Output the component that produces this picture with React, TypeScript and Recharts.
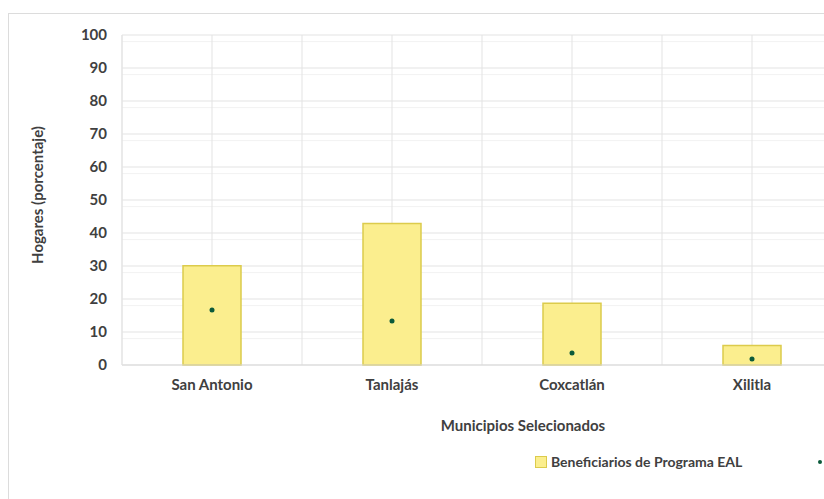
import {
  Bar,
  CartesianGrid,
  ComposedChart,
  Line,
  XAxis,
  YAxis
} from "recharts";

const municipios = ["San Antonio", "Tanlajás", "Coxcatlán", "Xilitla"];
const beneficiarios = [30.1, 42.9, 18.7, 5.9];
const noBeneficiarios = [16.7, 13.3, 3.6, 1.8];
const yTicks = [0, 10, 20, 30, 40, 50, 60, 70, 80, 90, 100];
const minorTicks = yTicks.slice(0, -1).flatMap((t) => [t + 2, t + 4, t + 6, t + 8]);

const data = municipios.map((name, i) => ({
  name,
  benef: beneficiarios[i],
  noBenef: noBeneficiarios[i]
}));

const FONT = "Lato, 'Open Sans', sans-serif";
const TEXT = "#404040";
const BAR_FILL = "#fbee8e";
const BAR_STROKE = "#dccb4c";
const DOT = "#0b5a3a";

// half-category vertical lines, like the Excel original
const halfCategoryLines = ({ offset }: any) => {
  const step = offset.width / (municipios.length * 2);
  return Array.from({ length: municipios.length * 2 }, (_, i) => offset.left + i * step);
};

export default function App() {
  return (
    <div
      style={{
        position: "fixed",
        left: 0,
        top: 0,
        width: 824,
        height: 499,
        overflow: "hidden",
        background: "#fff",
        fontFamily: FONT
      }}
    >
      <div
        style={{
          position: "absolute",
          left: 8,
          top: 13,
          width: 900,
          height: 600,
          border: "1px solid #dcdcdc"
        }}
      />
      <div style={{ position: "absolute", left: 0, top: 0 }}>
        <ComposedChart
          width={900}
          height={499}
          data={data}
          margin={{ top: 35, right: 58, bottom: 64, left: 0 }}
        >
          <CartesianGrid
            horizontalValues={minorTicks}
            vertical={false}
            stroke="#f2f2f2"
          />
          <CartesianGrid
            horizontalValues={yTicks}
            verticalCoordinatesGenerator={halfCategoryLines}
            stroke="#e3e3e3"
          />
          <XAxis
            dataKey="name"
            axisLine={{ stroke: "#d9d9d9" }}
            tickLine={false}
            tickMargin={8}
            height={70}
            tick={{ fill: TEXT, fontSize: 15, fontWeight: 700, fontFamily: FONT }}
            label={{
              value: "Municipios Selecionados",
              position: "insideTop",
              offset: 55,
              dx: 41,
              fill: TEXT,
              fontSize: 15,
              fontWeight: 700,
              fontFamily: FONT
            }}
          />
          <YAxis
            domain={[0, 100]}
            ticks={yTicks}
            width={122}
            axisLine={{ stroke: "#e3e3e3" }}
            tickLine={false}
            tickMargin={9}
            tick={{ fill: TEXT, fontSize: 15, fontWeight: 700, fontFamily: FONT }}
            label={{
              value: "Hogares (porcentaje)",
              angle: -90,
              position: "insideLeft",
              offset: 38,
              dy: -5,
              fill: TEXT,
              fontSize: 15,
              fontWeight: 700,
              fontFamily: FONT,
              style: { textAnchor: "middle" }
            }}
          />
          <Bar
            dataKey="benef"
            name="Beneficiarios de Programa EAL"
            fill={BAR_FILL}
            stroke={BAR_STROKE}
            strokeWidth={1.5}
            barSize={58}
            isAnimationActive={false}
          />
          <Line
            dataKey="noBenef"
            name="No beneficiarios"
            stroke="none"
            dot={{ r: 2.5, fill: DOT, stroke: "none" }}
            activeDot={false}
            isAnimationActive={false}
          />
        </ComposedChart>
      </div>
      <div
        style={{
          position: "absolute",
          left: 535,
          top: 453,
          display: "flex",
          alignItems: "center",
          whiteSpace: "nowrap",
          fontSize: 14,
          fontWeight: 700,
          color: TEXT
        }}
      >
        <span
          style={{
            display: "inline-block",
            width: 10,
            height: 10,
            background: BAR_FILL,
            border: `1px solid ${BAR_STROKE}`,
            marginRight: 4
          }}
        />
        <span>Beneficiarios de Programa EAL</span>
        <span
          style={{
            display: "inline-block",
            width: 4,
            height: 4,
            borderRadius: 2,
            background: DOT,
            marginLeft: 76,
            marginRight: 6
          }}
        />
        <span>No beneficiarios</span>
      </div>
    </div>
  );
}
